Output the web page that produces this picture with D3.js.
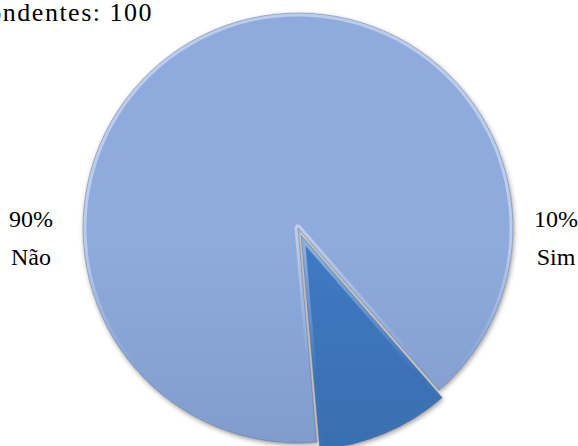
<!DOCTYPE html>
<html>
<head>
<meta charset="utf-8">
<script src="https://cdn.jsdelivr.net/npm/d3@7/dist/d3.min.js"></script>
<style>
  html, body { margin: 0; padding: 0; background: #ffffff; }
  svg { display: block; }
  text { font-family: "Liberation Serif", "DejaVu Serif", serif; fill: #000; }
</style>
</head>
<body>
<svg id="chart" width="578" height="446"></svg>
<script>
// Survey answers
const categories = ["Não", "Sim"];
const values = [90, 10];
const valueLabels = ["90%", "10%"];
const titleText = "Total de respondentes: 100";

const width = 578, height = 446;
const cx = 298, cy = 228, radius = 215;
const explode = 8;

const svg = d3.select("#chart");
const defs = svg.append("defs");

// Slice fills: vertical gradients, light blue for "Não", darker blue for "Sim"
const fills = [
  { id: "gNao", stops: [["0%", "#8fabdd"], ["50%", "#809bcc"], ["100%", "#6b83ac"]] },
  { id: "gSim", stops: [["0%", "#4079c2"], ["50%", "#386daf"], ["100%", "#2e5c98"]] }
];
fills.forEach(f => {
  const g = defs.append("linearGradient")
    .attr("id", f.id).attr("gradientUnits", "userSpaceOnUse")
    .attr("x1", 0).attr("y1", cy - radius).attr("x2", 0).attr("y2", cy + radius);
  f.stops.forEach(s => g.append("stop").attr("offset", s[0]).attr("stop-color", s[1]));
});

// Bevel edge: light at the top, dark towards the bottom
const bevel = defs.append("linearGradient")
  .attr("id", "bevel").attr("gradientUnits", "userSpaceOnUse")
  .attr("x1", 0).attr("y1", cy - radius).attr("x2", 0).attr("y2", cy + radius);
bevel.append("stop").attr("offset", "0%").attr("stop-color", "#ffffff").attr("stop-opacity", 0.4);
bevel.append("stop").attr("offset", "30%").attr("stop-color", "#ffffff").attr("stop-opacity", 0.0);
bevel.append("stop").attr("offset", "60%").attr("stop-color", "#0b1f40").attr("stop-opacity", 0.08);
bevel.append("stop").attr("offset", "100%").attr("stop-color", "#0b1f40").attr("stop-opacity", 0.3);

// Soft drop shadow under the slices
const shadow = defs.append("filter").attr("id", "shadow")
  .attr("x", "-10%").attr("y", "-10%").attr("width", "120%").attr("height", "120%");
shadow.append("feDropShadow")
  .attr("dx", 1).attr("dy", 2).attr("stdDeviation", 2.5)
  .attr("flood-color", "#000").attr("flood-opacity", 0.4);

// "Sim" slice sits on the lower right; "Não" fills the rest clockwise
const simSpan = 2 * Math.PI * values[1] / d3.sum(values);
const simMid = 157 * Math.PI / 180;
const pie = d3.pie().sort(null).value(d => d)
  .startAngle(simMid + simSpan / 2)
  .endAngle(simMid + simSpan / 2 + 2 * Math.PI);
const arcs = pie(values);

const arc = d3.arc().innerRadius(0).outerRadius(radius);

const slices = svg.append("g").attr("transform", `translate(${cx},${cy})`);

arcs.forEach((a, i) => {
  const mid = (a.startAngle + a.endAngle) / 2;
  const off = i === 1 ? explode : 0;
  const dx = Math.sin(mid) * off, dy = -Math.cos(mid) * off;
  const g = slices.append("g").attr("transform", `translate(${dx},${dy})`);
  const clipId = "clip" + i;
  defs.append("clipPath").attr("id", clipId)
    .append("path").attr("d", arc(a))
    .attr("transform", `translate(${cx + dx},${cy + dy})`);

  g.append("path")
    .attr("d", arc(a))
    .attr("fill", `url(#${fills[i].id})`)
    .attr("filter", "url(#shadow)");

  // bevel drawn as a stroke clipped to the slice itself
  g.append("g")
    .attr("transform", `translate(${-cx - dx},${-cy - dy})`)
    .attr("clip-path", `url(#${clipId})`)
    .append("path")
    .attr("transform", `translate(${cx + dx},${cy + dy})`)
    .attr("d", arc(a))
    .attr("fill", "none")
    .attr("stroke", "url(#bevel)")
    .attr("stroke-width", 7)
    .attr("stroke-linejoin", "round");

  g.append("path")
    .attr("d", arc(a))
    .attr("fill", "none")
    .attr("stroke", "#4f6388")
    .attr("stroke-opacity", 0.5)
    .attr("stroke-width", 0.8);
});

// Category labels at the sides
const labelPos = [{ x: 31 }, { x: 556 }];
categories.forEach((c, i) => {
  svg.append("text")
    .attr("x", labelPos[i].x).attr("y", 227)
    .attr("text-anchor", "middle").attr("font-size", 24)
    .text(valueLabels[i]);
  svg.append("text")
    .attr("x", labelPos[i].x).attr("y", 265)
    .attr("text-anchor", "middle").attr("font-size", 24)
    .text(c);
});

// Title, running off the left edge
svg.append("text")
  .attr("x", 153).attr("y", 21)
  .attr("text-anchor", "end").attr("font-size", 26)
  .attr("letter-spacing", 1.5)
  .text(titleText);
</script>
</body>
</html>
